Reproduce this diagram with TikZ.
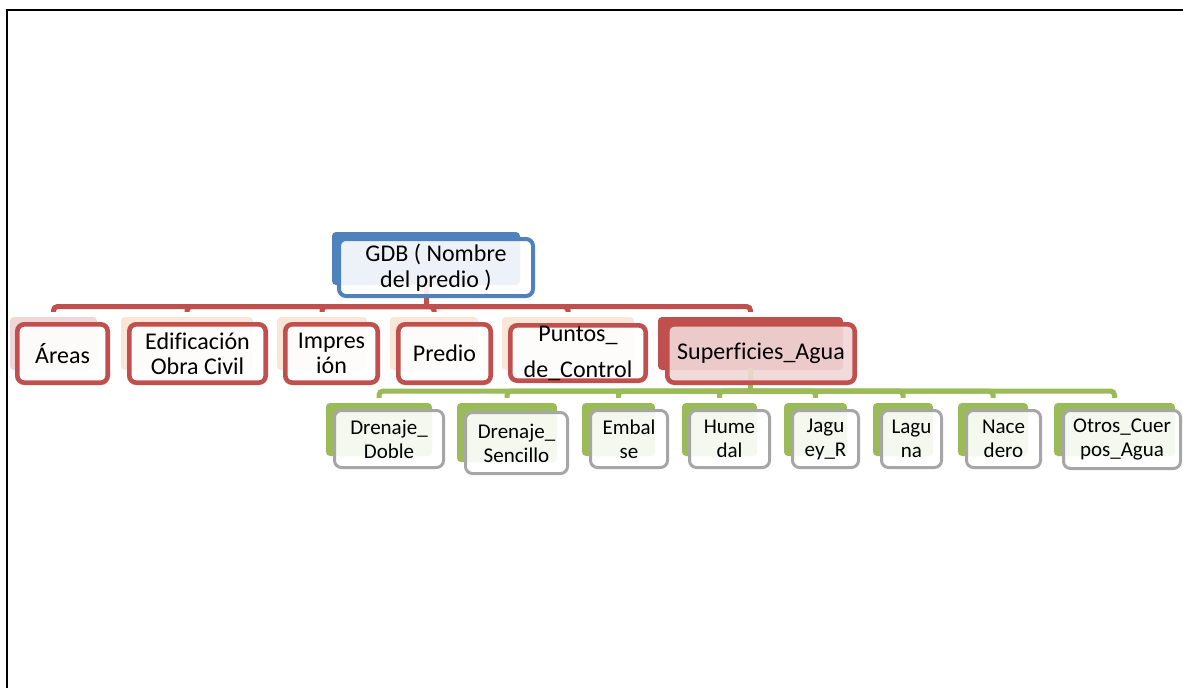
\documentclass[tikz,border=0pt]{standalone}
\usepackage{fontspec}
\setmainfont{Carlito}[Ligatures=NoCommon]
\definecolor{blueA}{RGB}{79,129,189}
\definecolor{redA}{RGB}{192,80,77}
\definecolor{greenA}{RGB}{155,187,89}
\definecolor{grayA}{RGB}{166,166,166}
\definecolor{peachA}{RGB}{251,229,214}
\definecolor{pinkA}{RGB}{240,216,215}
\definecolor{pinkB}{RGB}{240,214,214}
\begin{document}
\begin{tikzpicture}[x=1pt,y=-1pt,
  backbox/.style={rectangle, rounded corners=4pt, inner sep=0pt, draw=none},
  frontbox/.style={rectangle, rounded corners=7pt, inner sep=0pt, align=center,
    fill=white, fill opacity=0.9, text opacity=1},
  rootbox/.style={frontbox, draw=blueA, line width=4pt, font=\fontsize{24}{26}\selectfont},
  onebox/.style={frontbox, draw=redA, line width=4.6pt, minimum height=58.4pt, font=\fontsize{24}{25}\selectfont},
  onebk/.style={backbox, fill=peachA, minimum height=53pt},
  twobox/.style={frontbox, draw=grayA, line width=3pt, minimum height=57pt, font=\fontsize{21}{24}\selectfont},
  twobk/.style={backbox, fill=greenA, minimum height=53pt},
  redconn/.style={draw=redA, line width=5pt, rounded corners=4pt},
  greenconn/.style={draw=greenA, line width=5pt, rounded corners=4pt}]
\useasboundingbox (0,0) rectangle (1183,688);
\fill[white] (0,0) rectangle (1183,688);
% page frame
\draw[black, line width=2pt] (7,688) -- (7,10) -- (1183,10);

% back plates
\node[backbox, fill=blueA, minimum width=188pt, minimum height=53pt] (gdbB) at (426,258.5) {};
\node[onebk, fill=pinkB, minimum width=87pt] (areasB) at (53.5,343.5) {};
\node[onebk, minimum width=132pt] (edifB) at (187,343.5) {};
\node[onebk, minimum width=90pt] (imprB) at (322,343.5) {};
\node[onebk, minimum width=88pt] (predB) at (434,343.5) {};
\node[onebk, minimum width=132pt] (puntB) at (568,343.5) {};
\node[onebk, fill=redA, minimum width=185pt] (supB) at (750.5,343.5) {};

\node[twobk, minimum width=106pt] (dobB) at (379,429.5) {};
\node[twobk, minimum width=100pt, minimum height=59pt] (senB) at (507,432.5) {};
\node[twobk, minimum width=73pt] (embB) at (618.5,429.5) {};
\node[twobk, minimum width=75pt] (humB) at (719.5,429.5) {};
\node[twobk, minimum width=63pt] (jagB) at (815.5,429.5) {};
\node[twobk, minimum width=60pt] (lagB) at (903,429.5) {};
\node[twobk, minimum width=70pt] (nacB) at (993,429.5) {};
\node[twobk, minimum width=121pt] (otrB) at (1114.5,429.5) {};

% connectors
\coordinate (redbus) at (426,306.5);
\coordinate (greenbus) at (750.5,391);
\draw[redconn] ([yshift=2pt]gdbB.south) -- (redbus);
\foreach \c in {areasB,edifB,imprB,predB,puntB,supB}
  \draw[redconn] (redbus) -| ([yshift=5pt]\c.north);
\draw[greenconn] ([yshift=2pt]supB.south) -- (greenbus);
\foreach \c in {dobB,senB,embB,humB,jagB,lagB,nacB,otrB}
  \draw[greenconn] (greenbus) -| ([yshift=5pt]\c.north);

% front boxes
\node[rootbox, minimum width=194pt, minimum height=57pt] (gdbF) at (436,267.5) {GDB ( Nombre\\del predio )};

\node[onebox, minimum width=90.4pt] (areasF) at (62.5,353.5) {Áreas};
\node[onebox, minimum width=136.4pt] (edifF) at (197.5,353.5) {Edificación\\Obra Civil};
\node[onebox, minimum width=92.4pt] (imprF) at (331.5,353.5) {Impres\\ión};
\node[onebox, minimum width=92.4pt] (predF) at (444.5,353.5) {Predio};
\node[onebox, minimum width=135.4pt, minimum height=55.4pt] (puntF) at (578,353) {Puntos\_\\[11pt]de\_Control};
\node[onebox, fill=pinkA, minimum width=187.4pt] (supF) at (761,353.5) {Superficies\_Agua};

\node[twobox, minimum width=109pt] (dobF) at (389,439) {Drenaje\_\\Doble};
\node[twobox, minimum width=102pt, minimum height=61pt] (senF) at (516.5,443) {Drenaje\_\\Sencillo};
\node[twobox, minimum width=77pt] (embF) at (629,439) {Embal\\se};
\node[twobox, minimum width=80pt] (humF) at (729.5,439) {Hume\\dal};
\node[twobox, minimum width=66pt] (jagF) at (825.5,439) {Jagu\\ey\_R};
\node[twobox, minimum width=60pt] (lagF) at (911.5,439) {Lagu\\na};
\node[twobox, minimum width=74pt] (nacF) at (1003.5,439) {Nace\\dero};
\node[twobox, minimum width=117pt, minimum height=58pt] (otrF) at (1122,439.5) {Otros\_Cuer\\pos\_Agua};
\end{tikzpicture}
\end{document}
